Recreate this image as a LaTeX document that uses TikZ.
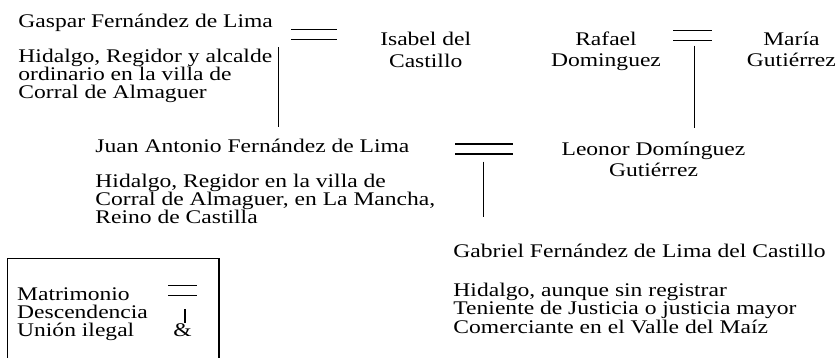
\documentclass[tikz,border=0pt]{standalone}
\usepackage{fontspec}
\setmainfont{Liberation Serif}
\usepackage{tikz}

\begin{document}
\begin{tikzpicture}[x=0.518pt, y=-0.518pt,
    person/.style={inner sep=0pt, xscale=1.22, anchor=base west, align=left,
                   font=\fontsize{10}{9.3}\selectfont},
    spouse/.style={inner sep=0pt, xscale=1.22, anchor=base, align=center,
                   font=\fontsize{10}{10.9}\selectfont},
    tie/.style={line width=0.6pt}]
\useasboundingbox (0,0) rectangle (838,357);

% first generation (multi-line nodes sit on their last line)
\node (gaspar) [person] at (18,27.7) {Gaspar Fernández de Lima};
\node (gasparinfo) [person] at (18,98.3)
  {Hidalgo, Regidor y alcalde\\ordinario en la villa de\\Corral de Almaguer};
\node (isabel) [spouse] at (425.7,67) {Isabel del\\Castillo};
\node (rafael) [spouse] at (606,66.5) {Rafael\\Dominguez};
\node (maria) [spouse] at (791.4,66.5) {María\\Gutiérrez};

\draw[tie] (291,29.5) -- (337,29.5);
\draw[tie] (291,39.5) -- (337,39.5);
\draw[tie] (673,30.5) -- (712,30.5);
\draw[tie] (673,40.3) -- (712,40.3);

\coordinate (gasparup) at (278.3,47);
\coordinate (gasparlow) at (278.3,127);
\coordinate (rafaelup) at (694.7,45.5);
\coordinate (rafaellow) at (694.7,127.5);
\draw[tie] (gasparup) -- (gasparlow);
\draw[tie] (rafaelup) -- (rafaellow);

% second generation
\node (juan) [person] at (95,152) {Juan Antonio Fernández de Lima};
\node (juaninfo) [person] at (95,223.3)
  {Hidalgo, Regidor en la villa de\\Corral de Almaguer, en La Mancha,\\Reino de Castilla};
\node (leonor) [spouse] at (653.5,176.5) {Leonor Domínguez\\Gutiérrez};

\draw[tie] (455,144) -- (513,144);
\draw[tie] (455,154) -- (513,154);

\coordinate (juanup) at (483.3,161.7);
\coordinate (juanlow) at (483.3,217.3);
\draw[tie] (juanup) -- (juanlow);

% third generation
\node (gabriel) [person] at (453,257) {Gabriel Fernández de Lima del Castillo};
\node (gabrielinfo) [person, font=\fontsize{10}{9.5}\selectfont] at (453,333.3)
  {Hidalgo, aunque sin registrar\\Teniente de Justicia o justicia mayor\\Comerciante en el Valle del Maíz};

% legend
\draw[tie] (7.3,365) -- (7.3,258.3) -- (219,258.3) -- (219,365);
\node (legend) [person, font=\fontsize{10}{9.5}\selectfont] at (16.7,336.7)
  {Matrimonio\\Descendencia\\Unión ilegal};
\draw[tie] (168.3,285.7) -- (197.3,285.7);
\draw[tie] (168.3,295.7) -- (197.3,295.7);
\coordinate (descup) at (185,309);
\coordinate (desclow) at (185,323.3);
\draw[tie] (descup) -- (desclow);
\node (amp) [spouse] at (182.5,336.7) {\&};
\end{tikzpicture}
\end{document}
